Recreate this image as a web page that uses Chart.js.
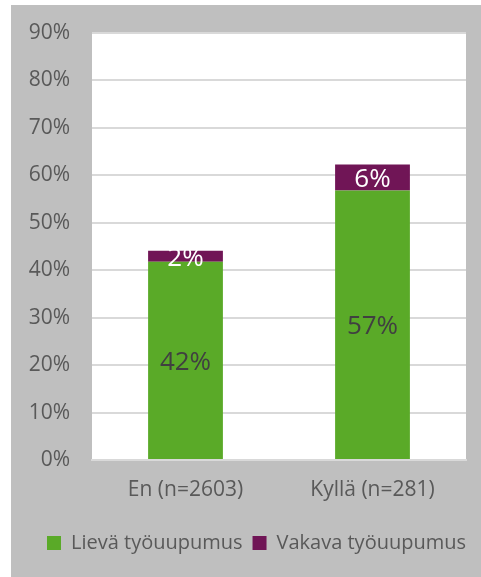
<!DOCTYPE html>
<html>
<head>
<meta charset="utf-8">
<script src="https://cdn.jsdelivr.net/npm/chart.js@4"></script>
<style>
  html, body { margin: 0; padding: 0; background: #ffffff; }
  #wrap { position: absolute; left: 11px; top: 5px; width: 470px; height: 572px; background: #bfbfbf; }
</style>
</head>
<body>
<div id="wrap"><canvas id="burnoutChart" width="470" height="572"></canvas></div>
<script>
const categories = ["En (n=2603)", "Kyllä (n=281)"];
const seriesNames = ["Lievä työuupumus", "Vakava työuupumus"];
const lievaValues = [41.8, 56.8];
const vakavaValues = [2.3, 5.5];
const lievaLabels = ["42%", "57%"];
const vakavaLabels = ["2%", "6%"];

const textColor = "#595959";
const fontFamily = "'Open Sans', sans-serif";

// white plot area on the grey background
const plotBackground = {
    id: "plotBackground",
    beforeDraw(chart) {
        const { ctx, chartArea } = chart;
        ctx.save();
        ctx.fillStyle = "#ffffff";
        ctx.fillRect(chartArea.left, chartArea.top, chartArea.right - chartArea.left, chartArea.bottom - chartArea.top);
        ctx.restore();
    }
};

// legend in the original sits a bit right of the canvas centre
const legendShift = {
    id: "legendShift",
    beforeDraw(chart) {
        chart.legend.left += 18;
        chart.legend.right += 18;
    }
};

// value labels centred in each segment
const segmentLabels = {
    id: "segmentLabels",
    afterDatasetsDraw(chart) {
        const ctx = chart.ctx;
        const labelSets = [lievaLabels, vakavaLabels];
        const colors = ["#404040", "#ffffff"];
        ctx.save();
        ctx.font = "26px " + fontFamily;
        ctx.textAlign = "center";
        ctx.textBaseline = "middle";
        chart.data.datasets.forEach((ds, i) => {
            const meta = chart.getDatasetMeta(i);
            meta.data.forEach((bar, j) => {
                ctx.fillStyle = colors[i];
                ctx.fillText(labelSets[i][j], bar.x, (bar.y + bar.base) / 2 + 2);
            });
        });
        ctx.restore();
    }
};

const ctx = document.getElementById("burnoutChart").getContext("2d");
new Chart(ctx, {
    type: "bar",
    data: {
        labels: categories,
        datasets: [
            { label: seriesNames[0], data: lievaValues, backgroundColor: "#5aaa28", barPercentage: 0.8, categoryPercentage: 0.5 },
            { label: seriesNames[1], data: vakavaValues, backgroundColor: "#701556", barPercentage: 0.8, categoryPercentage: 0.5 }
        ]
    },
    options: {
        responsive: false,
        animation: false,
        layout: { padding: { top: 28, right: 15, bottom: 14, left: 0 } },
        scales: {
            x: {
                stacked: true,
                grid: { display: false, drawTicks: false },
                border: { color: "#d9d9d9", width: 2 },
                ticks: { color: textColor, font: { family: fontFamily, size: 21 }, padding: 17 },
                afterFit(scale) { scale.height = 63; }
            },
            y: {
                stacked: true,
                min: 0,
                max: 90,
                // invisible tick marks give the gap between labels and plot
                grid: { color: "#d9d9d9", lineWidth: 2, drawTicks: true, tickLength: 22, tickColor: "rgba(0,0,0,0)" },
                border: { display: false },
                ticks: {
                    stepSize: 10,
                    color: textColor,
                    font: { family: fontFamily, size: 21 },
                    padding: 0,
                    callback: v => v + "%"
                },
                afterFit(scale) { scale.width = 81; }
            }
        },
        plugins: {
            legend: {
                position: "bottom",
                labels: {
                    color: textColor,
                    font: { family: fontFamily, size: 20 },
                    boxWidth: 14,
                    boxHeight: 14,
                    padding: 10
                }
            },
            tooltip: { enabled: false }
        }
    },
    plugins: [plotBackground, legendShift, segmentLabels]
});
</script>
</body>
</html>
